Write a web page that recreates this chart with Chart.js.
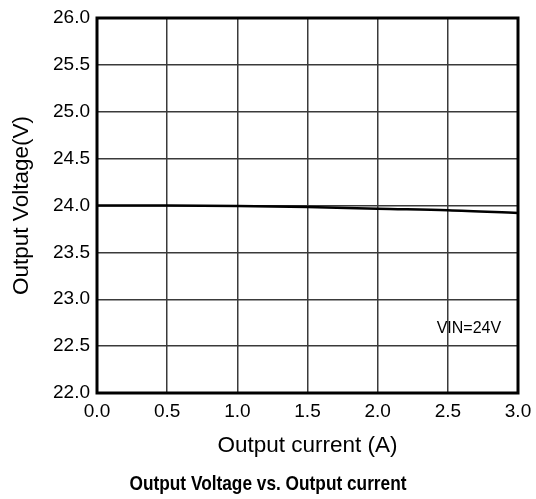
<!DOCTYPE html>
<html>
<head>
<meta charset="utf-8">
<script src="https://cdn.jsdelivr.net/npm/chart.js@4/dist/chart.umd.min.js"></script>
<style>
html,body{margin:0;padding:0;background:#fff;}
#wrap{width:536px;height:499px;}
</style>
</head>
<body>
<div id="wrap"><canvas id="c" width="536" height="499"></canvas></div>
<script>
const currents = [0.0, 0.5, 1.0, 1.5, 2.0, 2.5, 3.0];
const voltages = [24.00, 24.00, 23.995, 23.985, 23.965, 23.95, 23.92];
const xTicks = [0.0, 0.5, 1.0, 1.5, 2.0, 2.5, 3.0];
const yTicks = [22.0, 22.5, 23.0, 23.5, 24.0, 24.5, 25.0, 25.5, 26.0];
const noteText = 'VIN=24V';
const noteX = [2.65];
const noteY = [22.69];
const chartTitle = 'Output Voltage vs. Output current';

const FONT = '"Liberation Sans", Arial, sans-serif';

const frame = {
  id: 'frame',
  afterDatasetsDraw(chart) {
    const {ctx, chartArea: a} = chart;
    ctx.save();
    ctx.strokeStyle = '#000';
    ctx.lineWidth = 3;
    ctx.strokeRect(a.left, a.top, a.right - a.left, a.bottom - a.top);
    const xs = chart.scales.x, ys = chart.scales.y;
    ctx.fillStyle = '#000';
    ctx.font = '16px ' + FONT;
    ctx.textAlign = 'center';
    ctx.textBaseline = 'middle';
    ctx.fillText(noteText, xs.getPixelForValue(noteX[0]), ys.getPixelForValue(noteY[0]));
    ctx.font = 'bold 21px ' + FONT;
    ctx.fillText(chartTitle, chart.width / 2, 484, 277);
    ctx.restore();
  }
};

new Chart(document.getElementById('c'), {
  type: 'scatter',
  data: {
    datasets: [{
      data: currents.map((x, i) => ({x: x, y: voltages[i]})),
      showLine: true,
      borderColor: '#000',
      borderWidth: 2.5,
      pointRadius: 0,
      tension: 0.3,
      cubicInterpolationMode: 'monotone'
    }]
  },
  options: {
    responsive: false,
    animation: false,
    devicePixelRatio: 1,
    layout: {padding: {top: 18, right: 18, left: 0, bottom: 40}},
    plugins: {
      legend: {display: false},
      tooltip: {enabled: false},
      title: {display: false}
    },
    scales: {
      x: {
        type: 'linear',
        min: 0, max: 3,
        afterBuildTicks(s) { s.ticks = xTicks.map(v => ({value: v})); },
        afterFit(s) { s.height = 66; s.paddingLeft = 0; s.paddingRight = 0; },
        ticks: {
          color: '#000',
          font: {family: FONT, size: 19},
          padding: 7,
          callback: v => v.toFixed(1)
        },
        grid: {color: '#3a3a3a', lineWidth: 1.5, drawTicks: false},
        border: {display: false},
        title: {
          display: true,
          text: 'Output current (A)',
          color: '#000',
          font: {family: FONT, size: 22.5},
          padding: {top: 0, bottom: 0}
        }
      },
      y: {
        type: 'linear',
        min: 22, max: 26,
        afterBuildTicks(s) { s.ticks = yTicks.map(v => ({value: v})); },
        afterFit(s) { s.width = 97; s.paddingTop = 0; s.paddingBottom = 0; },
        ticks: {
          color: '#000',
          font: {family: FONT, size: 19},
          padding: 7,
          callback: v => v.toFixed(1)
        },
        grid: {color: '#3a3a3a', lineWidth: 1.5, drawTicks: false},
        border: {display: false},
        title: {
          display: true,
          text: 'Output Voltage(V)',
          color: '#000',
          font: {family: FONT, size: 22.5},
          padding: {top: 8.5, bottom: 0}
        }
      }
    }
  },
  plugins: [frame]
});
</script>
</body>
</html>
